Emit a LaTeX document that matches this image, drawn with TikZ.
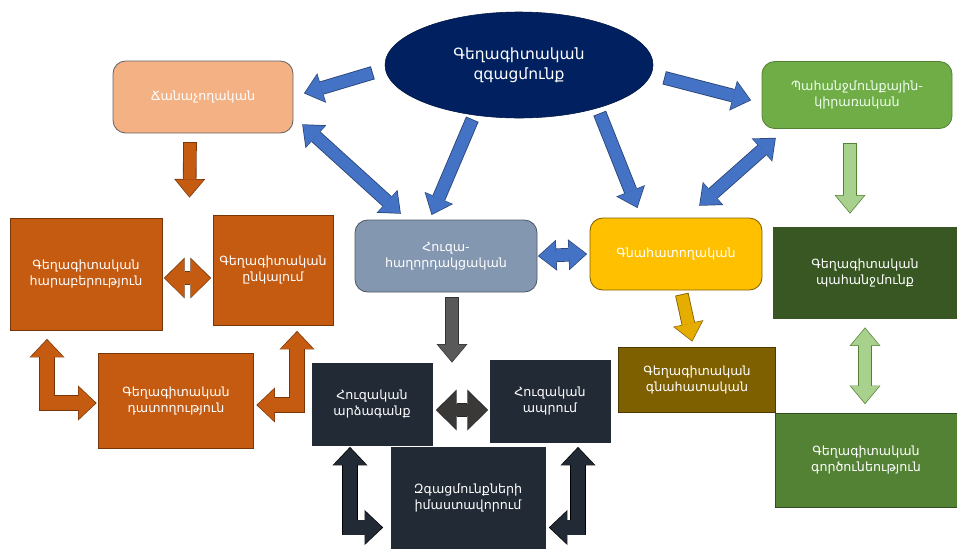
\documentclass[tikz,border=0pt]{standalone}
\usepackage{fontspec}
\setmainfont{DejaVu Sans}
\usetikzlibrary{shapes.geometric, arrows.meta, calc}
\definecolor{navy}{HTML}{002060}
\definecolor{salmon}{HTML}{F4B183}
\definecolor{leaf}{HTML}{70AD47}
\definecolor{rust}{HTML}{C55A11}
\definecolor{slate}{HTML}{8497B0}
\definecolor{amber}{HTML}{FFC000}
\definecolor{ink}{HTML}{222A35}
\definecolor{olive}{HTML}{7F6000}
\definecolor{forest}{HTML}{385723}
\definecolor{moss}{HTML}{548235}
\definecolor{arrblue}{HTML}{4472C4}
\definecolor{mint}{HTML}{A9D18E}
\definecolor{charcoal}{HTML}{3B3838}
\tikzstyle{box} = [rectangle, inner sep=2pt, outer sep=0pt, align=center, text=white, font=\fontsize{9}{11.5}\selectfont, line width=0.6pt]
\tikzstyle{roundbox} = [box, rounded corners=9pt]
\tikzset{
  sz/.style 2 args={minimum width=#1*0.025cm, minimum height=#2*0.025cm},
  onearrow/.style 2 args={draw=#1, line width=8.5pt, line join=miter,
    -{Triangle[length=12pt,width=20pt,line width=0pt]},
    preaction={draw=#2, line width=9.7pt, shorten >=-0.8pt, shorten <=-0.6pt,
      -{Triangle[length=13.2pt,width=22pt,line width=0pt]}}},
  twoarrow/.style 2 args={draw=#1, line width=8.5pt, line join=miter,
    {Triangle[length=12pt,width=20pt,line width=0pt]}-{Triangle[length=12pt,width=20pt,line width=0pt]},
    preaction={draw=#2, line width=9.7pt, shorten >=-0.8pt, shorten <=-0.8pt,
      {Triangle[length=13.2pt,width=22pt,line width=0pt]}-{Triangle[length=13.2pt,width=22pt,line width=0pt]}}},
  fattwo/.style 2 args={draw=#1, line width=9pt, line join=miter,
    {Triangle[length=13.5pt,width=27pt,line width=0pt]}-{Triangle[length=13.5pt,width=27pt,line width=0pt]},
    preaction={draw=#2, line width=10.2pt, shorten >=-0.8pt, shorten <=-0.8pt,
      {Triangle[length=14.7pt,width=29pt,line width=0pt]}-{Triangle[length=14.7pt,width=29pt,line width=0pt]}}},
  elbowtwo/.style 2 args={draw=#1, line width=10pt, line join=miter,
    {Triangle[length=12pt,width=23pt,line width=0pt]}-{Triangle[length=12pt,width=23pt,line width=0pt]},
    preaction={draw=#2, line width=11.2pt, shorten >=-0.8pt, shorten <=-0.8pt,
      {Triangle[length=13.2pt,width=25pt,line width=0pt]}-{Triangle[length=13.2pt,width=25pt,line width=0pt]}}}
}

\begin{document}
\begin{tikzpicture}[x=0.025cm, y=-0.025cm]
    \useasboundingbox (0,0) rectangle (957,549);

    % Nodes
    \node (feel) [ellipse, inner sep=0pt, outer sep=0pt, fill=navy, draw=navy!70!black, sz={268}{106}, align=center, text=white, font=\fontsize{11}{14}\selectfont] at (519,65) {Գեղագիտական\\զգացմունք};
    \node (cogn) [roundbox, fill=salmon, draw=black!60, sz={180}{72}] at (203,97) {Ճանաչողական};
    \node (need) [roundbox, fill=leaf, draw=moss, sz={190}{67}, text=green!8] at (857,95) {Պահանջմունքային-\\կիրառական};
    \node (rel) [box, fill=rust, draw=rust!60!black, sz={152}{112}] at (86,274) {Գեղագիտական\\հարաբերություն};
    \node (perc) [box, fill=rust, draw=rust!60!black, sz={120}{110}] at (273,270) {Գեղագիտական\\ընկալում};
    \node (emo) [roundbox, fill=slate, draw=slate!60!black, sz={182}{72}] at (446,256) {Հուզա-\\հաղորդակցական};
    \node (eval) [roundbox, fill=amber, draw=olive, sz={172}{72}] at (676,254) {Գնահատողական};
    \node (judg) [box, fill=rust, draw=rust!60!black, sz={155}{95}] at (176,401) {Գեղագիտական\\դատողություն};
    \node (resp) [box, fill=ink, draw=ink, sz={120}{82}] at (372,404) {Հուզական\\արձագանք};
    \node (exper) [box, fill=ink, draw=ink, sz={120}{82}] at (550,401) {Հուզական\\ապրում};
    \node (mean) [box, fill=ink, draw=ink, sz={154}{101}] at (468,498) {Զգացմունքների\\իմաստավորում};
    \node (esteem) [box, fill=olive, draw=olive!60!black, sz={157}{65}] at (697,380) {Գեղագիտական\\գնահատական};
    \node (aneed) [box, fill=forest, draw=forest, sz={184}{91}] at (865,273) {Գեղագիտական\\պահանջմունք};
    \node (act) [box, fill=moss, draw=moss!60!black, sz={182}{94}] at (866,460) {Գեղագիտական\\գործունեություն};

    % from the feeling
    \draw [onearrow={arrblue}{arrblue!60!black}] ($(feel.west)+(-13,8)$) -- ($(cogn.east)+(12,-4)$);
    \draw [onearrow={arrblue}{arrblue!60!black}] ($(feel.east)+(12,13)$) -- ($(need.west)+(-12,5)$);
    \draw [onearrow={arrblue}{arrblue!60!black}] ($(feel.south)+(-47,2)$) -- ($(emo.north)+(-14,-6)$);
    \draw [onearrow={arrblue}{arrblue!60!black}] ($(feel.south)+(81,-4)$) -- ($(eval.north)+(-39,-11)$);
    \draw [twoarrow={arrblue}{arrblue!60!black}] ($(cogn.east)+(10,28)$) -- ($(emo.north)+(-46,-7)$);
    \draw [twoarrow={arrblue}{arrblue!60!black}] ($(need.south)+(-82,10)$) -- ($(eval.north)+(24,-13)$);
    \draw [twoarrow={arrblue}{arrblue!60!black}] ($(emo.east)+(2,0)$) -- ($(eval.west)+(-4,0)$);

    % left block
    \draw [onearrow={rust}{rust!60!black}] ($(cogn.south)+(-13,10)$) -- ($($(rel.north east)!0.5!(perc.north west)$)+(2,-20)$);
    \draw [fattwo={rust}{rust!60!black}] ($(rel.east)+(3,4)$) -- ($(perc.west)+(-3,8)$);
    \draw [elbowtwo={rust}{rust!60!black}] ($(rel.south)+(-39,10)$) |- ($(judg.west)+(-3,2)$);
    \draw [elbowtwo={rust}{rust!60!black}] ($(perc.south)+(24,7)$) |- ($(judg.east)+(4,4)$);

    % middle block
    \draw [onearrow={black!65}{black!80}] ($(emo.south)+(6,6)$) -- ($($(resp.north east)!0.5!(exper.north west)$)+(-9,0)$);
    \draw [fattwo={charcoal}{black!85}] ($(resp.east)+(5,6)$) -- ($(exper.west)+(-3,9)$);
    \draw [elbowtwo={ink}{black}] ($(resp.south)+(-22,3)$) |- ($(mean.south west)+(-9,-21)$);
    \draw [elbowtwo={ink}{black}] ($(exper.south)+(28,6)$) |- ($(mean.south east)+(5,-21)$);

    % right block
    \draw [onearrow={amber!80!olive}{olive}] ($(eval.south)+(6,5)$) -- ($(esteem.north)+(-5,-7)$);
    \draw [onearrow={mint}{moss}] ($(need.south)+(-7,15)$) -- ($(aneed.north)+(-15,-15)$);
    \draw [twoarrow={mint}{moss}] ($(aneed.south)+(0,10)$) -- ($(act.north)+(-1,-10)$);
\end{tikzpicture}
\end{document}
